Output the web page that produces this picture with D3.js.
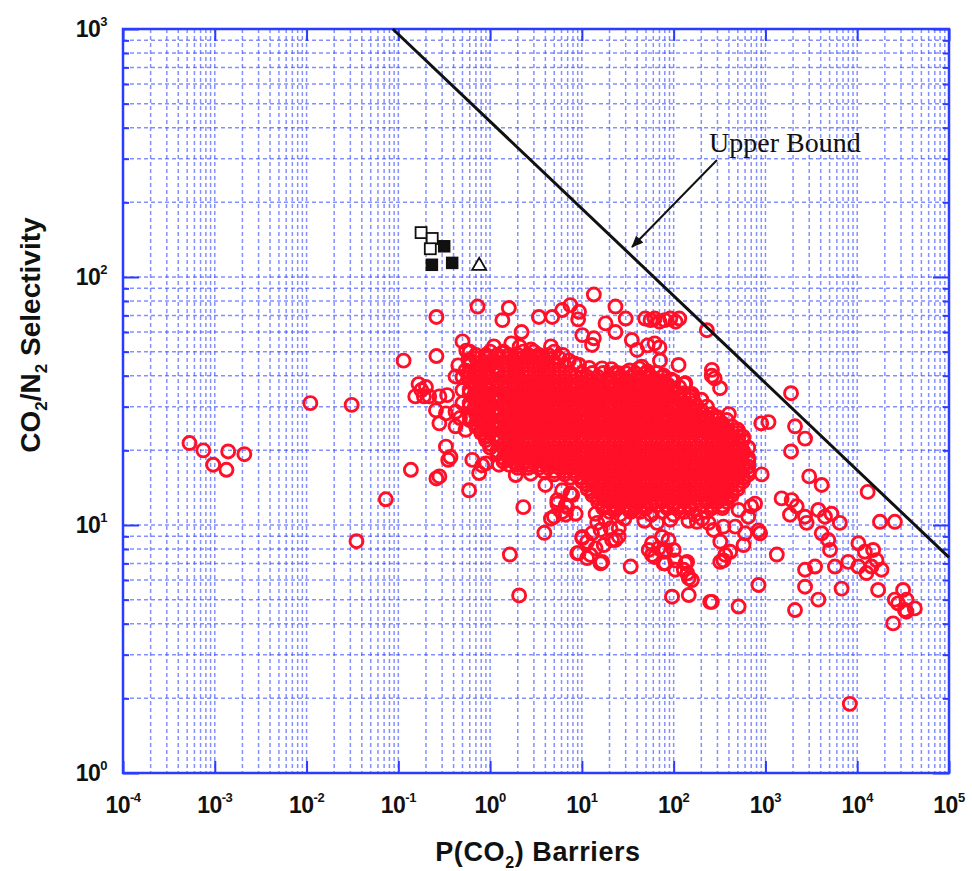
<!DOCTYPE html>
<html><head><meta charset="utf-8">
<script src="https://cdn.jsdelivr.net/npm/d3@7"></script>
<style>body{margin:0;background:#fff}</style>
</head><body>
<script>
// ---------- data ----------
const xDomain = [1e-4, 1e5];
const yDomain = [1, 1000];
const xTickExps = [-4,-3,-2,-1,0,1,2,3,4,5];
const yTickExps = [0,1,2,3];

// Robeson upper bound (end points of the straight line on log-log axes)
const upperBoundP = [0.087, 100000];
const upperBoundAlpha = [1000, 7.4];

// black markers
const openSquares = [[0.177,151],[0.234,143],[0.223,130]];
const filledSquares = [[0.316,133],[0.232,112],[0.386,114]];
const openTriangles = [[0.76,112]];

// scattered polymer membranes [P(CO2), CO2/N2 selectivity]
const scatteredPoints = [
 [0.00053,21.4],[0.00075,20],[0.00096,17.5],[0.0014,19.8],[0.00134,16.7],[0.0021,19.3],
 [0.011,31],[0.031,30.5],[0.073,12.7],[0.035,8.6],
 [0.114,46],[0.26,69],[0.26,48],[0.5,55],[0.166,37],[0.153,33],[0.217,33],[0.137,16.7],[0.26,15.4],[0.33,20.7],[0.37,18.8],[0.59,13.8],[0.5,39.5],
 [0.2,36],[0.19,33],[0.28,33],[0.34,33.4],[0.257,29],[0.33,28.2],[0.42,28.6],[0.28,25.7],[0.42,25],[0.54,24.2],[0.64,18.3],[0.82,17.4],[0.28,15.7],[0.178,35],[0.54,42],[0.58,46.3],[0.9,47.7],[1.14,43.5],[0.76,39.7],[0.5,35],[0.42,39.7],[2.1,52.4],[1.36,49.3],[3.7,47.7],[9.3,44.2],[16.6,42.8],[25,40.9],[42,42.8],
 [1.1,52.5],[1.7,54],[2.8,51],[4.6,52.5],[0.55,50.5],[6.2,48.5],[7.2,46],[8.3,44.8],[12,43],[21,42.5],[33,42],[52,41.6],[78,40],[0.45,44],[0.5,31],[0.47,27],
 [0.35,18.3],[0.76,16.2],[0.9,17.7],[1.25,17.5],[1.9,15.9],[2.77,16.1],[2.65,17.5],[1.98,17.5],
 [0.73,76],[1.6,75],[1.36,67],[2.2,60],[3.4,69],[4.75,69],[6.1,73.6],[7.5,77],[9.3,72.4],[9.1,67.5],[13.5,85],[23.2,76],[30,68],[18.1,65],[23.2,60],[10.1,58.3],[12.9,53.2],[13.5,56.6],[35,55.7],[40,50.8],[45,43.5],
 [49,68],[56,67],[62,68],[70,66],[80,67],[92,68],[105,66],[115,68],[52,53],[62,54],[70,52],[71,46],[94,38.5],[230,61],
 [68.7,37.8],[113,44.2],[134,37.3],[158,33.8],[261,42.2],[280,39],
 [260,40],[320,35.6],[130,37],[160,33],[400,28],[900,25.7],[1080,26],[1900,34],[2100,25],[2700,22.3],[1900,19.8],[510,22.7],[510,20],[270,24],[650,17.2],[910,16],[3000,15.7],[4100,14.5],[13000,13.6],[17700,10.3],[25700,10.3],
 [1500,12.8],[1930,12.6],[2190,11.9],[1850,11],[2700,10.8],[2810,10.2],[3770,11.5],[4450,10.8],[5250,11.1],[6460,10.2],[4100,9.26],[4840,8.7],[5050,7.93],[1330,7.6],[840,9.5],[875,9.26],[2700,6.6],[3470,6.8],[2700,5.64],[5720,6.8],
 [7980,7.1],[10300,8.44],[12100,7.8],[14900,7.93],[16200,7.22],[18400,6.6],[12600,6.4],[14300,6.8],[10300,6.8],
 [6750,5.54],[3770,5],[16900,5.47],[2100,4.54],[31600,5.47],[25700,5],[34400,5],[42400,4.61],[34400,4.47],[24600,4.01],[27900,4.83],[33000,4.54],
 [840,5.73],[510,4.69],[250,4.9],[96,5.14],[146,5.22],[140,7.1],[146,6.1],[129,6.6],[322,8.57],[365,7.57],[322,7.1],[577,8.3],[81,7],[100,7.93],
 [179,10.3],[240,10.2],[272,9.55],[349,9.85],[468,9.85],[601,9.26],[510,11.5],[650,10.8],[770,12.2],[700,11.9],
 [8300,1.9],
 [2.3,11.8],[1.64,7.6],[2.07,5.2],[3.9,9.3],[4,14.5],[4.6,10.6],
 [5.4,12.2],[6.65,12],[7.5,13.4],[6.65,11],[8.55,11.1],[6.1,13.8],
 [10.1,8.85],[8.9,7.7],[11.4,7.35],[16,7],[14.1,8.05],[17.3,8.3],[21.3,8.7],[25.2,9],[12.9,9.26],[16,9.55],
 [34,6.8],[14.1,11.1],[14.7,10.2],[18.1,10.5],[23.2,11.5],[32.5,11.5],[23.2,12.6],[18.1,12.6],
 [58,7.57],[68.7,8.05],[77.8,7],[58,8.44],[81,7.93],[104,6.6],
 [5.4,12.6],[6.9,11.8],[7.85,13.2],[6.1,11.3],[4.97,10.8],[15.3,14.7],[10.1,8.95],[11.4,8.55],[9.2,7.7],[12.4,7.57],[16.6,7.1],[23.2,8.7],[25.2,9.7],[20.5,9.7],
 [53.5,7.93],[62,7.43],[78,7.8],[88,8.7],[74.5,8.95],[104,7.2],[134,7],[141,6.38],[158,6],[261,4.9],[349,7.2],[413,7.8],
 [29,10.6],[48,10.4],[66,10.2],[92,10.5],[145,10.4],[205,10.6]
];

// dense core of the cloud, read row by row: [selectivity, [P values along that row]]
const denseRows = [
 [50,  [0.6,1,1.4,2.3,3,5]],
 [48.5,[0.7,0.9,1.2,1.6,2,2.6,3.4,4.3]],
 [47,  [0.7,0.9,1.2,1.6,2,2.6,3.4,4.3,5.7]],
 [45.5,[0.6,0.8,1,1.4,1.8,2.3,3,3.8,5]],
 [44,  [0.6,0.8,1,1.4,1.8,2.3,3,3.8,5,6.5]],
 [42.5,[0.7,0.9,1.2,1.6,2,2.6,3.4,4.3,5.7]],
 [41,  [0.6,0.7,0.9,1.2,1.6,2,2.6,3.4,4.3,5.7,7.5,10,13,17,23,30,38,50,65]],
 [39.5,[0.6,0.8,1,1.4,1.8,2.3,3,3.8,5,6.5,8.5,11.5,15,20,26,34,43,57,75]],
 [38,  [0.6,0.8,1,1.4,1.8,2.3,3,3.8,5,6.5,8.5,11.5,15,20,26,34,43,57,75,100]],
 [37,  [0.7,0.9,1.2,1.6,2,2.6,3.4,4.3,5.7,7.5,10,13,17,23,30,38,50,65,85]],
 [36,  [0.7,0.9,1.2,1.6,2,2.6,3.4,4.3,5.7,7.5,10,13,17,23,30,38,50,65,85,115]],
 [35,  [0.6,0.8,1,1.4,1.8,2.3,3,3.8,5,6.5,8.5,11.5,15,20,26,34,43,57,75,100]],
 [34,  [0.6,0.8,1,1.4,1.8,2.3,3,3.8,5,6.5,8.5,11.5,15,20,26,34,43,57,75,100,130]],
 [33,  [0.7,0.9,1.2,1.6,2,2.6,3.4,4.3,5.7,7.5,10,13,17,23,30,38,50,65,85,115,150]],
 [32,  [0.7,0.9,1.2,1.6,2,2.6,3.4,4.3,5.7,7.5,10,13,17,23,30,38,50,65,85,115,150,200]],
 [31,  [0.6,0.8,1,1.4,1.8,2.3,3,3.8,5,6.5,8.5,11.5,15,20,26,34,43,57,75,100,130,170]],
 [30,  [0.6,0.8,1,1.4,1.8,2.3,3,3.8,5,6.5,8.5,11.5,15,20,26,34,43,57,75,100,130,170,230]],
 [29,  [0.7,0.9,1.2,1.6,2,2.6,3.4,4.3,5.7,7.5,10,13,17,23,30,38,50,65,85,115,150,200]],
 [28,  [0.7,0.9,1.2,1.6,2,2.6,3.4,4.3,5.7,7.5,10,13,17,23,30,38,50,65,85,115,150,200,260]],
 [27.2,[0.6,0.8,1,1.4,1.8,2.3,3,3.8,5,6.5,8.5,11.5,15,20,26,34,43,57,75,100,130,170,230,300]],
 [26.5,[0.6,0.8,1,1.4,1.8,2.3,3,3.8,5,6.5,8.5,11.5,15,20,26,34,43,57,75,100,130,170,230,300,380]],
 [25.7,[0.7,0.9,1.2,1.6,2,2.6,3.4,4.3,5.7,7.5,10,13,17,23,30,38,50,65,85,115,150,200,260,340]],
 [25,  [0.7,0.9,1.2,1.6,2,2.6,3.4,4.3,5.7,7.5,10,13,17,23,30,38,50,65,85,115,150,200,260,340,430]],
 [24.2,[0.8,1,1.4,1.8,2.3,3,3.8,5,6.5,8.5,11.5,15,20,26,34,43,57,75,100,130,170,230,300,380,500]],
 [23.5,[0.8,1,1.4,1.8,2.3,3,3.8,5,6.5,8.5,11.5,15,20,26,34,43,57,75,100,130,170,230,300,380,500]],
 [22.7,[0.9,1.2,1.6,2,2.6,3.4,4.3,5.7,7.5,10,13,17,23,30,38,50,65,85,115,150,200,260,340,430,570]],
 [22,  [0.9,1.2,1.6,2,2.6,3.4,4.3,5.7,7.5,10,13,17,23,30,38,50,65,85,115,150,200,260,340,430,570]],
 [21.2,[1,1.4,1.8,2.3,3,3.8,5,6.5,8.5,11.5,15,20,26,34,43,57,75,100,130,170,230,300,380,500]],
 [20.5,[1,1.4,1.8,2.3,3,3.8,5,6.5,8.5,11.5,15,20,26,34,43,57,75,100,130,170,230,300,380,500,650]],
 [19.9,[1.2,1.6,2,2.6,3.4,4.3,5.7,7.5,10,13,17,23,30,38,50,65,85,115,150,200,260,340,430,570]],
 [19.3,[1.2,1.6,2,2.6,3.4,4.3,5.7,7.5,10,13,17,23,30,38,50,65,85,115,150,200,260,340,430,570]],
 [18.6,[1.4,1.8,2.3,3,3.8,5,6.5,8.5,11.5,15,20,26,34,43,57,75,100,130,170,230,300,380,500,650]],
 [18,  [1.4,1.8,2.3,3,3.8,5,6.5,8.5,11.5,15,20,26,34,43,57,75,100,130,170,230,300,380,500,650]],
 [17.5,[1.6,2,2.6,3.4,4.3,5.7,7.5,10,13,17,23,30,38,50,65,85,115,150,200,260,340,430,570]],
 [17,  [2,2.6,3.4,4.3,5.7,7.5,10,13,17,23,30,38,50,65,85,115,150,200,260,340,430,570]],
 [16.5,[3.8,5,6.5,8.5,11.5,15,20,26,34,43,57,75,100,130,170,230,300,380,500,650]],
 [16,  [5,6.5,8.5,11.5,15,20,26,34,43,57,75,100,130,170,230,300,380,500,650]],
 [15.5,[7.5,10,13,17,23,30,38,50,65,85,115,150,200,260,340,430,570]],
 [15,  [10,13,17,23,30,38,50,65,85,115,150,200,260,340,430,570]],
 [14.5,[11.5,15,20,26,34,43,57,75,100,130,170,230,300,380,500]],
 [14,  [11.5,15,20,26,34,43,57,75,100,130,170,230,300,380,500]],
 [13.6,[13,17,23,30,38,50,65,85,115,150,200,260,340,430]],
 [13.2,[13,17,23,30,38,50,65,85,115,150,200,260,340,430]],
 [12.8,[15,20,26,34,43,57,75,100,130,170,230,300,380]],
 [12.4,[15,20,26,34,43,57,75,100,130,170,230,300,380]],
 [12,  [17,23,30,38,50,65,85,115,150,200,260,340]],
 [11.7,[17,23,38,50,85,115,150,260,340]],
 [11.3,[20,34,43,75,130,230]],
 [11,  [26,57,100,170]]
];

// ---------- drawing ----------
const W = 972, H = 871;
const L = 123, R = 949, T = 29, B = 773;
const svg = d3.select("body").append("svg").attr("width", W).attr("height", H)
  .style("font-family", "'Liberation Sans', Arial, Helvetica, sans-serif");
svg.append("rect").attr("width", W).attr("height", H).attr("fill", "#fff");

const x = d3.scaleLog().domain(xDomain).range([L, R]);
const y = d3.scaleLog().domain(yDomain).range([B, T]);

// grid (every 1..9 multiple)
const gridCol = "#3a4cff";
const g = svg.append("g").attr("stroke", gridCol).attr("stroke-opacity", 0.62)
  .attr("stroke-width", 1.5).attr("stroke-dasharray", "4,3").attr("fill", "none");
x.ticks().forEach(v => {
  g.append("line").attr("x1", x(v)).attr("x2", x(v)).attr("y1", T).attr("y2", B);
});
y.ticks().forEach(v => {
  g.append("line").attr("y1", y(v)).attr("y2", y(v)).attr("x1", L).attr("x2", R);
});

// axes (ticks inward) via d3 axes
const axCol = "#2a3cff";
const xMaj = xTickExps.map(e => Math.pow(10, e));
const yMaj = yTickExps.map(e => Math.pow(10, e));
function styleAxis(sel){
  sel.select(".domain").remove();
  sel.selectAll("text").remove();
  sel.selectAll("line").attr("stroke", axCol).attr("stroke-width", 2);
}
svg.append("g").attr("transform", `translate(0,${B})`)
  .call(d3.axisBottom(x).tickValues(xMaj).tickSize(-12).tickFormat("")).call(styleAxis);
svg.append("g").attr("transform", `translate(0,${T})`)
  .call(d3.axisTop(x).tickValues(xMaj).tickSize(-12).tickFormat("")).call(styleAxis);
svg.append("g").attr("transform", `translate(${L},0)`)
  .call(d3.axisLeft(y).tickValues(yMaj).tickSize(-16).tickFormat("")).call(styleAxis);
svg.append("g").attr("transform", `translate(${R},0)`)
  .call(d3.axisRight(y).tickValues(yMaj).tickSize(-16).tickFormat("")).call(styleAxis);
// minor ticks
const yMin = y.ticks().filter(v => !yMaj.includes(v));
svg.append("g").attr("transform", `translate(${L},0)`)
  .call(d3.axisLeft(y).tickValues(yMin).tickSize(-6).tickFormat("")).call(styleAxis);
svg.append("g").attr("transform", `translate(${R},0)`)
  .call(d3.axisRight(y).tickValues(yMin).tickSize(-6).tickFormat("")).call(styleAxis);

// frame
svg.append("rect").attr("x", L).attr("y", T).attr("width", R - L).attr("height", B - T)
  .attr("fill", "none").attr("stroke", axCol).attr("stroke-width", 2.5);

// tick labels
xTickExps.forEach(e => {
  const t = svg.append("text").attr("x", x(Math.pow(10, e))).attr("y", 813)
    .attr("text-anchor", "middle").attr("font-weight", "bold").attr("font-size", 23).attr("fill", "#111")
    .attr("letter-spacing", -0.5);
  t.append("tspan").text("10");
  t.append("tspan").attr("dy", -11).attr("font-size", 13).text(e);
});
yTickExps.forEach(e => {
  const t = svg.append("text").attr("x", 107).attr("y", y(Math.pow(10, e)) + 8)
    .attr("text-anchor", "end").attr("font-weight", "bold").attr("font-size", 23).attr("fill", "#111")
    .attr("letter-spacing", -0.5);
  t.append("tspan").text("10");
  t.append("tspan").attr("dy", -11).attr("font-size", 13).text(e);
});

// axis titles
const xt = svg.append("text").attr("x", 538).attr("y", 861).attr("text-anchor", "middle")
  .attr("font-weight", "bold").attr("font-size", 27).attr("fill", "#111").attr("letter-spacing", 0.6);
xt.append("tspan").text("P(CO");
xt.append("tspan").attr("dy", 7).attr("font-size", 16).text("2");
xt.append("tspan").attr("dy", -7).text(") Barriers");

const yt = svg.append("text").attr("transform", "translate(40,335) rotate(-90)").attr("text-anchor", "middle")
  .attr("font-weight", "bold").attr("font-size", 28).attr("fill", "#111");
yt.append("tspan").text("CO");
yt.append("tspan").attr("dy", 7).attr("font-size", 17).text("2");
yt.append("tspan").attr("dy", -7).text("/N");
yt.append("tspan").attr("dy", 7).attr("font-size", 17).text("2");
yt.append("tspan").attr("dy", -7).text(" Selectivity");

// red circles
const allPoints = scatteredPoints.concat(...denseRows.map(([a, ps]) => ps.map(p => [p, a])));
svg.append("g").selectAll("circle").data(allPoints).join("circle")
  .attr("cx", d => x(d[0])).attr("cy", d => y(d[1])).attr("r", 6.5)
  .attr("fill", "none").attr("stroke", "#ff1028").attr("stroke-width", 2.9);

// upper bound
svg.append("path")
  .attr("d", d3.line().x(d => x(d[0])).y(d => y(d[1]))(upperBoundP.map((p, i) => [p, upperBoundAlpha[i]])))
  .attr("stroke", "#111").attr("stroke-width", 3).attr("fill", "none");

// black markers
const s = 11;
svg.append("g").selectAll("rect").data(openSquares).join("rect")
  .attr("x", d => x(d[0]) - s/2).attr("y", d => y(d[1]) - s/2).attr("width", s).attr("height", s)
  .attr("fill", "#fff").attr("stroke", "#111").attr("stroke-width", 1.8);
svg.append("g").selectAll("rect").data(filledSquares).join("rect")
  .attr("x", d => x(d[0]) - s/2).attr("y", d => y(d[1]) - s/2).attr("width", s).attr("height", s)
  .attr("fill", "#111").attr("stroke", "#111").attr("stroke-width", 1.5);
svg.append("g").selectAll("path").data(openTriangles).join("path")
  .attr("transform", d => `translate(${x(d[0])},${y(d[1])})`)
  .attr("d", "M0,-7 L7,5 L-7,5 Z").attr("fill", "#fff").attr("stroke", "#111").attr("stroke-width", 1.8);

// annotation
svg.append("defs").append("marker").attr("id", "ah").attr("viewBox", "0 0 12 10")
  .attr("refX", 11).attr("refY", 5).attr("markerWidth", 13).attr("markerHeight", 10)
  .attr("markerUnits", "userSpaceOnUse").attr("orient", "auto")
  .append("path").attr("d", "M0,0 L12,5 L0,10 Z").attr("fill", "#111");
svg.append("line").attr("x1", 717).attr("y1", 160).attr("x2", 632).attr("y2", 247)
  .attr("stroke", "#111").attr("stroke-width", 2).attr("marker-end", "url(#ah)");
svg.append("text").attr("x", 709).attr("y", 152)
  .attr("font-family", "'Liberation Serif', 'Times New Roman', serif")
  .attr("font-size", 28).attr("fill", "#111").text("Upper Bound");
</script>
</body></html>
